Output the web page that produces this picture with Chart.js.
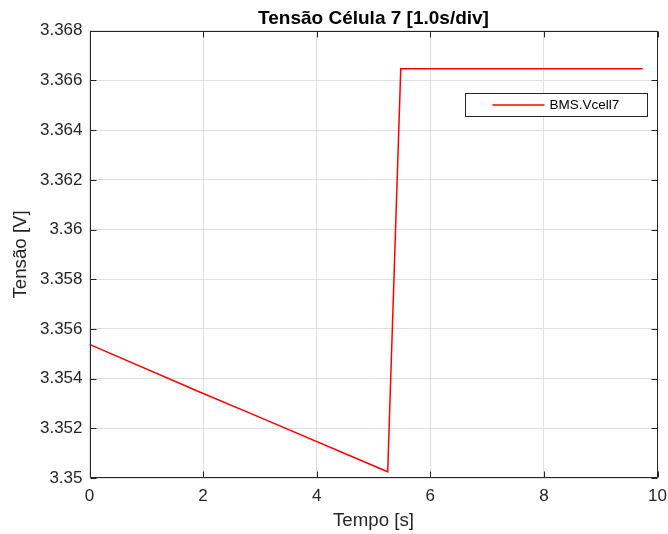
<!DOCTYPE html>
<html>
<head>
<meta charset="utf-8">
<title>Tensão Célula 7</title>
<script src="https://cdn.jsdelivr.net/npm/chart.js@4"></script>
<style>
  html, body { margin: 0; padding: 0; background: #ffffff; }
  canvas { display: block; }
</style>
</head>
<body>
<canvas id="myChart" width="668" height="534"></canvas>
<script>
// Tensão da célula 7 ao longo do tempo
const tempo = [0, 1.95, 2.97, 5.25, 5.48, 9.74];
const tensao = [3.35538, 3.35345, 3.35247, 3.35025, 3.36647, 3.36647];
const serieNome = 'BMS.Vcell7';
const xTicks = [0, 2, 4, 6, 8, 10];
const yTicks = [3.35, 3.352, 3.354, 3.356, 3.358, 3.36, 3.362, 3.364, 3.366, 3.368];

const fonte = '"Liberation Sans", Arial, Helvetica, sans-serif';
const corEixo = '#262626';

// Caixa do eixo com marcas internas (estilo MATLAB) e legenda
const caixaEixos = {
    id: 'caixaEixos',
    afterDraw(chart) {
        const ctx = chart.ctx;
        const area = chart.chartArea;
        const xs = chart.scales.x;
        const ys = chart.scales.y;
        const L = Math.round(area.left) + 0.5;
        const R = Math.round(area.right) - 0.5;
        const T = Math.round(area.top) + 0.5;
        const B = Math.round(area.bottom) - 0.5;
        const tick = 6;

        ctx.save();
        ctx.strokeStyle = corEixo;
        ctx.lineWidth = 1;
        ctx.beginPath();
        ctx.rect(L, T, R - L, B - T);
        xTicks.forEach(v => {
            const px = Math.round(xs.getPixelForValue(v)) + 0.5;
            ctx.moveTo(px, B); ctx.lineTo(px, B - tick);
            ctx.moveTo(px, T); ctx.lineTo(px, T + tick);
        });
        yTicks.forEach(v => {
            const py = Math.round(ys.getPixelForValue(v)) + 0.5;
            ctx.moveTo(L, py); ctx.lineTo(L + tick, py);
            ctx.moveTo(R, py); ctx.lineTo(R - tick, py);
        });
        ctx.stroke();

        // legenda
        const ds = chart.data.datasets[0];
        const w = 182, h = 23;
        const bx = Math.round(area.right - 11 - w) + 0.5;
        const by = Math.round(area.top + 62) + 0.5;
        ctx.fillStyle = '#ffffff';
        ctx.fillRect(bx, by, w, h);
        ctx.strokeStyle = corEixo;
        ctx.strokeRect(bx, by, w, h);
        const cy = by + h / 2;
        ctx.strokeStyle = ds.borderColor;
        ctx.lineWidth = ds.borderWidth;
        ctx.beginPath();
        ctx.moveTo(bx + 27, cy);
        ctx.lineTo(bx + 79, cy);
        ctx.stroke();
        ctx.fillStyle = '#000000';
        ctx.font = '13.5px ' + fonte;
        ctx.textBaseline = 'middle';
        ctx.textAlign = 'left';
        ctx.fillText(ds.label, bx + 84, cy + 0.5);
        ctx.restore();
    }
};

const data = {
    datasets: [{
        label: serieNome,
        data: tempo.map((t, i) => ({ x: t, y: tensao[i] })),
        borderColor: '#ff0000',
        borderWidth: 1.5,
        pointRadius: 0,
        tension: 0,
        fill: false
    }]
};

const config = {
    type: 'line',
    data: data,
    options: {
        responsive: false,
        animation: false,
        layout: {
            padding: 0
        },
        scales: {
            x: {
                type: 'linear',
                min: 0,
                max: 10,
                afterBuildTicks: (scale) => { scale.ticks = xTicks.map(v => ({ value: v })); },
                afterFit: (scale) => {
                    scale.height = 56;
                    scale.paddingLeft = 0;
                    scale.paddingRight = 10.5;
                },
                ticks: {
                    color: corEixo,
                    padding: 8,
                    maxRotation: 0,
                    font: { family: fonte, size: 17 }
                },
                grid: { color: '#dfdfdf', lineWidth: 1, drawTicks: false },
                border: { display: false },
                title: {
                    display: true,
                    text: 'Tempo [s]',
                    color: corEixo,
                    padding: { top: 0, bottom: 2 },
                    font: { family: fonte, size: 18.7 }
                }
            },
            y: {
                min: 3.35,
                max: 3.368,
                afterBuildTicks: (scale) => { scale.ticks = yTicks.map(v => ({ value: v })); },
                afterFit: (scale) => { scale.width = 89.5; },
                ticks: {
                    color: corEixo,
                    padding: 7,
                    font: { family: fonte, size: 17 },
                    callback: (v) => parseFloat(Number(v).toFixed(3)).toString()
                },
                grid: { color: '#dfdfdf', lineWidth: 1, drawTicks: false },
                border: { display: false },
                title: {
                    display: true,
                    text: 'Tensão [V]',
                    color: corEixo,
                    padding: { top: 10, bottom: 0 },
                    font: { family: fonte, size: 18.7 }
                }
            }
        },
        plugins: {
            legend: { display: false },
            tooltip: { enabled: false },
            title: {
                display: true,
                fullSize: false,
                text: 'Tensão Célula 7 [1.0s/div]',
                color: '#000000',
                padding: { top: 7, bottom: 1 },
                font: { family: fonte, size: 19, weight: 'bold' }
            }
        }
    },
    plugins: [caixaEixos]
};

const myChart = new Chart(document.getElementById('myChart'), config);
</script>
</body>
</html>
